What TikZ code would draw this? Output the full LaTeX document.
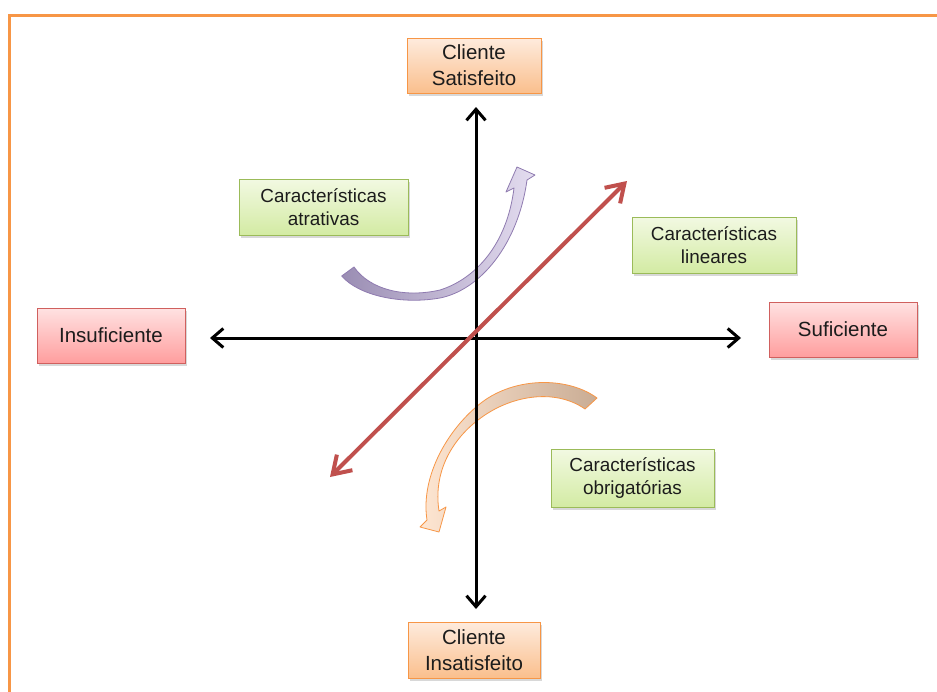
\documentclass[tikz,border=0pt]{standalone}
\usepackage{fontspec}
\setmainfont{Liberation Sans}
\usetikzlibrary{arrows.meta,shadows}

\definecolor{frameorange}{HTML}{F79646}
\definecolor{orangetop}{HTML}{FEEBDD}
\definecolor{orangebot}{HTML}{FABF8D}
\definecolor{pinkline}{HTML}{D0605E}
\definecolor{pinktop}{HTML}{FFE2E2}
\definecolor{pinkbot}{HTML}{FF9E9E}
\definecolor{greenline}{HTML}{9BBB59}
\definecolor{greentop}{HTML}{F2F9E2}
\definecolor{greenbot}{HTML}{D3EBA3}
\definecolor{linered}{HTML}{C0504D}
\definecolor{purpleline}{HTML}{8F7BB0}
\definecolor{purpledark}{HTML}{9A8DB3}
\definecolor{purplemid}{HTML}{BFB2D8}
\definecolor{purplelight}{HTML}{E4DDF0}
\definecolor{peachdark}{HTML}{C9AC94}
\definecolor{peachmid}{HTML}{F7B887}
\definecolor{peachlight}{HTML}{FEE6D2}
\definecolor{inktext}{HTML}{1C1C1C}

\tikzset{
  boxbase/.style={draw, line width=1pt, inner sep=0pt, align=center,
    text=inktext,
    drop shadow={shadow xshift=1.5pt, shadow yshift=-3pt, opacity=0.3}},
  orangebox/.style={boxbase, draw=frameorange, top color=orangetop,
    bottom color=orangebot, minimum width=134pt, minimum height=55pt,
    font=\fontsize{20.5}{26}\selectfont},
  pinkbox/.style={boxbase, draw=pinkline, top color=pinktop,
    bottom color=pinkbot, minimum width=148pt, minimum height=55pt,
    font=\fontsize{20.5}{26}\selectfont},
  greenbox/.style={boxbase, draw=greenline, top color=greentop,
    bottom color=greenbot, minimum height=56pt,
    font=\fontsize{18.9}{22.7}\selectfont},
  axisline/.style={line width=3pt, black,
    {Straight Barb[length=11pt,width=19pt]}-{Straight Barb[length=11pt,width=19pt]}},
  diagline/.style={line width=4pt, linered,
    {Straight Barb[length=17pt,width=22pt]}-{Straight Barb[length=17pt,width=22pt]}},
  bendarrow/.style={line width=0.8pt, line join=round},
}

\begin{document}
\begin{tikzpicture}[x=1pt,y=-1pt]
\clip (0,0) rectangle (937,691);
\fill[white] (0,0) rectangle (937,691);

% frame around the figure
\draw[frameorange, line width=3pt] (9,700) -- (9,15) -- (950,15);

% attractive characteristics: curved block arrow
\draw[bendarrow, draw=purpleline, left color=purpledark, middle color=purplemid,
      right color=purplelight]
  (341.7,276) .. controls (358,295) and (400,305) .. (440,298)
  .. controls (480,290) and (518,245) .. (527,180)
  -- (535,175) -- (517,167) -- (506,192) -- (514,188)
  .. controls (507,245) and (475,279) .. (440,290)
  .. controls (405,298) and (370,290) .. (354,267) -- cycle;

% must-be characteristics: curved block arrow
\draw[bendarrow, draw=frameorange, left color=peachlight, middle color=peachmid,
      right color=peachdark]
  (597,398) .. controls (570,378) and (520,376) .. (485,400)
  .. controls (450,425) and (420,475) .. (427,520)
  -- (420,527) -- (439,532) -- (446,507) -- (439,511)
  .. controls (433,472) and (452,440) .. (478,420)
  .. controls (510,395) and (555,388) .. (585,409) -- cycle;

% axes
\coordinate (vtop) at (476,107);
\coordinate (vbot) at (476,609);
\coordinate (hleft) at (210,338);
\coordinate (hright) at (741,338);
\draw[axisline] (vbot) -- (vtop);
\draw[axisline] (hleft) -- (hright);

% linear characteristics
\coordinate (dlow) at (330,477);
\coordinate (dhigh) at (627,181);
\draw[diagline] (dlow) -- (dhigh);

% labels
\node[orangebox] (sat) at (474,65.5) {Cliente\\Satisfeito};
\node[orangebox, minimum width=132pt, minimum height=56pt] (insat) at (474,650) {Cliente\\Insatisfeito};
\node[pinkbox] (insuf) at (111,335.5) {Insuficiente};
\node[pinkbox] (suf) at (843,329.5) {Suficiente};
\node[greenbox, minimum width=169pt] (atr) at (323.5,207) {Características\\atrativas};
\node[greenbox, minimum width=164pt] (lin) at (714,245) {Características\\lineares};
\node[greenbox, minimum width=163pt, minimum height=58pt] (obr) at (632.5,478) {Características\\obrigatórias};
\end{tikzpicture}
\end{document}
